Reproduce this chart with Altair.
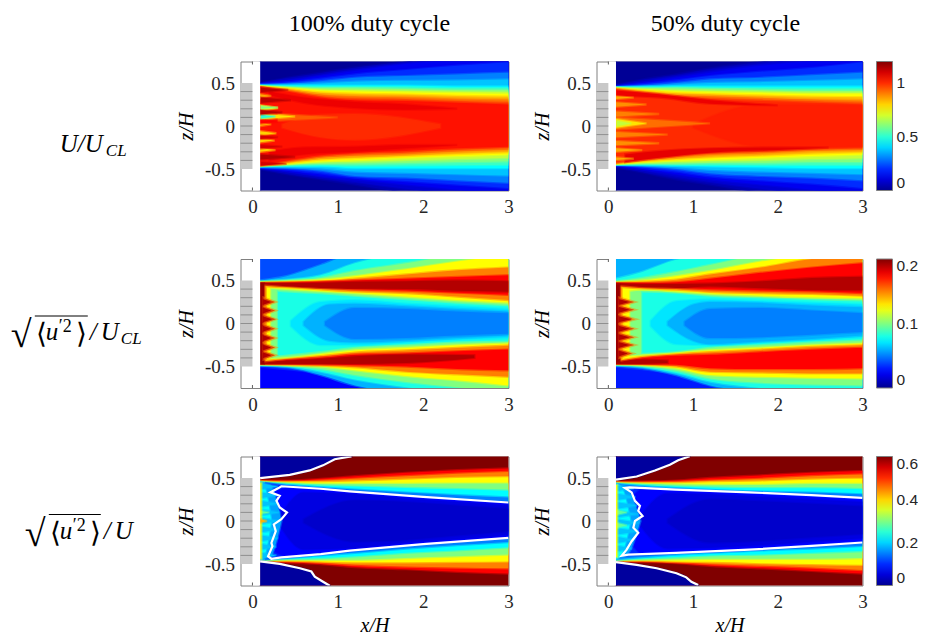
import altair as alt
import pandas as pd

W_LEFT, W_RIGHT, H = 268, 266, 129
X_DOM = [-0.14, 3]
Z_DOM = [-0.75, 0.75]
SERIF = "Liberation Serif"
SANS = "Liberation Sans"

# jet colormap stops (fraction of scale, colour)
JET_F = [0, 0.125, 0.375, 0.625, 0.875, 1]
JET_C = ["#00008f", "#0000ff", "#00ffff", "#ffff00", "#ff0000", "#800000"]

A = [0.09, 0.4, 0.8, 1.2, 1.8, 2.4, 3]
FULL = [0.09, 3]

# each band: (value, x stations, upper z edge, lower z edge)
U_100 = [
    (0.01, FULL, [0.8, 0.8], [-0.8, -0.8]),
    (0.05, A, [0.50, 0.56, 0.62, 0.68, 0.75, 0.85, 0.85], [-0.50, -0.56, -0.62, -0.68, -0.78, -0.85, -0.85]),
    (0.09, A, [0.495, 0.54, 0.60, 0.66, 0.735, 0.80, 0.85], [-0.495, -0.54, -0.60, -0.65, -0.73, -0.80, -0.83]),
    (0.13, A, [0.49, 0.52, 0.58, 0.64, 0.72, 0.78, 0.85], [-0.49, -0.52, -0.58, -0.62, -0.68, -0.74, -0.80]),
    (0.20, A, [0.485, 0.505, 0.55, 0.60, 0.65, 0.70, 0.74], [-0.485, -0.505, -0.55, -0.60, -0.64, -0.68, -0.72]),
    (0.30, A, [0.48, 0.49, 0.52, 0.56, 0.58, 0.60, 0.62], [-0.48, -0.49, -0.52, -0.58, -0.60, -0.63, -0.66]),
    (0.38, A, [0.475, 0.48, 0.495, 0.515, 0.525, 0.53, 0.54], [-0.475, -0.48, -0.495, -0.53, -0.545, -0.56, -0.575]),
    (0.45, A, [0.47, 0.47, 0.47, 0.47, 0.47, 0.46, 0.46], [-0.47, -0.47, -0.47, -0.49, -0.49, -0.49, -0.49]),
    (0.52, A, [0.467, 0.46, 0.455, 0.455, 0.45, 0.44, 0.44], [-0.467, -0.46, -0.455, -0.465, -0.46, -0.455, -0.45]),
    (0.60, A, [0.465, 0.45, 0.44, 0.44, 0.43, 0.42, 0.42], [-0.465, -0.45, -0.44, -0.44, -0.43, -0.42, -0.41]),
    (0.68, A, [0.462, 0.445, 0.425, 0.42, 0.41, 0.40, 0.395], [-0.462, -0.445, -0.425, -0.417, -0.40, -0.385, -0.37]),
    (0.75, A, [0.46, 0.44, 0.41, 0.40, 0.39, 0.38, 0.37], [-0.46, -0.44, -0.41, -0.395, -0.37, -0.35, -0.33]),
    (0.83, A, [0.457, 0.43, 0.39, 0.375, 0.365, 0.35, 0.34], [-0.457, -0.43, -0.39, -0.372, -0.35, -0.325, -0.305]),
    (0.90, A, [0.455, 0.42, 0.37, 0.35, 0.34, 0.32, 0.31], [-0.455, -0.42, -0.37, -0.35, -0.33, -0.30, -0.28]),
    (0.96, A, [0.452, 0.41, 0.35, 0.325, 0.315, 0.295, 0.28], [-0.452, -0.41, -0.355, -0.33, -0.31, -0.28, -0.26]),
    (1.03, A, [0.45, 0.40, 0.33, 0.30, 0.29, 0.27, 0.25], [-0.45, -0.40, -0.34, -0.31, -0.29, -0.26, -0.24]),
    (1.00, [0.35, 0.8, 1.2, 2.2], [0.02, 0.13, 0.14, 0.02], [-0.02, -0.13, -0.16, -0.02]),
    (1.07, [0.2, 0.6, 1.2, 1.8, 2.4], [0.40, 0.33, 0.28, 0.25, 0.20], [0.36, 0.27, 0.21, 0.19, 0.20]),
    (1.07, [0.2, 0.6, 1.2, 1.8, 2.4], [-0.30, -0.25, -0.24, -0.22, -0.22], [-0.40, -0.33, -0.30, -0.26, -0.22]),
]
# streaks near the inlet: (value, x start, x tip, z, half width)
U_100_S = [
    (0.94, 0.3, 1.0, 0.1, 0.04), (0.78, 0.09, 0.5, 0.11, 0.035), (0.75, 0.1, 0.3, 0.21, 0.03),
    (0.50, 0.1, 0.27, 0.11, 0.022), (0.60, 0.1, 0.3, 0.215, 0.015),
    (0.80, 0.09, 0.28, -0.085, 0.025), (0.80, 0.09, 0.26, -0.17, 0.02), (0.80, 0.09, 0.27, -0.28, 0.02),
    (0.85, 0.09, 0.22, 0.02, 0.02), (0.85, 0.09, 0.22, 0.35, 0.02),
    (1.13, 0.1, 0.42, 0.42, 0.025), (1.13, 0.1, 0.45, 0.30, 0.03), (1.13, 0.09, 0.35, 0.16, 0.025),
    (1.05, 0.09, 0.3, 0.05, 0.02), (1.10, 0.09, 0.3, -0.13, 0.02), (1.10, 0.09, 0.35, -0.24, 0.02),
    (1.14, 0.09, 0.5, -0.36, 0.03), (1.10, 0.1, 0.4, -0.44, 0.02),
]
U_50 = [
    (0.01, FULL, [0.8, 0.8], [-0.8, -0.8]),
    (0.05, A, [0.48, 0.54, 0.60, 0.67, 0.75, 0.85, 0.85], [-0.48, -0.54, -0.62, -0.68, -0.78, -0.85, -0.85]),
    (0.09, A, [0.47, 0.52, 0.58, 0.645, 0.725, 0.80, 0.85], [-0.47, -0.52, -0.59, -0.65, -0.73, -0.80, -0.83]),
    (0.13, A, [0.46, 0.50, 0.56, 0.62, 0.70, 0.76, 0.85], [-0.46, -0.50, -0.56, -0.62, -0.68, -0.74, -0.80]),
    (0.20, A, [0.458, 0.485, 0.53, 0.58, 0.63, 0.675, 0.74], [-0.458, -0.485, -0.53, -0.585, -0.63, -0.67, -0.72]),
    (0.30, A, [0.455, 0.47, 0.50, 0.54, 0.56, 0.59, 0.62], [-0.455, -0.47, -0.50, -0.55, -0.58, -0.60, -0.63]),
    (0.38, A, [0.452, 0.46, 0.48, 0.50, 0.51, 0.525, 0.54], [-0.452, -0.46, -0.48, -0.51, -0.53, -0.545, -0.56]),
    (0.45, A, [0.45, 0.455, 0.46, 0.46, 0.46, 0.46, 0.46], [-0.45, -0.45, -0.46, -0.47, -0.48, -0.49, -0.49]),
    (0.52, A, [0.447, 0.447, 0.45, 0.445, 0.44, 0.435, 0.435], [-0.447, -0.445, -0.45, -0.45, -0.455, -0.455, -0.455]),
    (0.60, A, [0.445, 0.44, 0.44, 0.43, 0.42, 0.41, 0.41], [-0.445, -0.44, -0.44, -0.43, -0.43, -0.42, -0.42]),
    (0.68, A, [0.442, 0.43, 0.42, 0.41, 0.40, 0.39, 0.39], [-0.442, -0.43, -0.42, -0.41, -0.40, -0.385, -0.375]),
    (0.75, A, [0.44, 0.42, 0.40, 0.39, 0.38, 0.37, 0.37], [-0.44, -0.42, -0.40, -0.39, -0.37, -0.35, -0.33]),
    (0.83, A, [0.435, 0.41, 0.38, 0.37, 0.355, 0.34, 0.335], [-0.435, -0.41, -0.385, -0.365, -0.345, -0.32, -0.305]),
    (0.90, A, [0.43, 0.40, 0.36, 0.35, 0.33, 0.31, 0.30], [-0.43, -0.40, -0.37, -0.34, -0.32, -0.29, -0.28]),
    (0.95, A, [0.425, 0.385, 0.345, 0.33, 0.31, 0.29, 0.275], [-0.425, -0.39, -0.35, -0.32, -0.30, -0.275, -0.265]),
    (1.00, A, [0.42, 0.37, 0.33, 0.31, 0.29, 0.27, 0.25], [-0.42, -0.38, -0.33, -0.30, -0.28, -0.26, -0.25]),
    (1.015, [1.0, 1.8, 2.4, 3], [0.02, 0.25, 0.25, 0.24], [-0.02, -0.24, -0.25, -0.24]),
    (1.07, [0.1, 0.6, 1.2, 2], [0.41, 0.37, 0.30, 0.24], [0.35, 0.33, 0.26, 0.24]),
    (1.08, [0.2, 0.6, 1.2, 2, 2.6], [-0.33, -0.29, -0.26, -0.25, -0.25], [-0.42, -0.37, -0.31, -0.28, -0.25]),
]
U_50_S = [
    (0.92, 0.09, 1.2, 0.03, 0.07), (0.78, 0.09, 0.45, 0.03, 0.05), (0.68, 0.1, 0.27, 0.03, 0.03),
    (0.90, 0.09, 0.6, 0.14, 0.03), (0.90, 0.09, 0.7, -0.1, 0.03), (0.88, 0.09, 0.6, -0.2, 0.025),
    (0.88, 0.09, 0.45, 0.25, 0.025), (0.85, 0.09, 0.4, -0.28, 0.02), (0.85, 0.09, 0.3, 0.33, 0.015),
    (0.85, 0.09, 0.3, -0.38, 0.015),
]

S14 = [0.14, 0.4, 0.8, 1.2, 1.8, 2.4, 3]
S17 = [0.17, 0.4, 0.8, 1.2, 1.8, 2.4, 3]
S22 = [0.22, 0.4, 0.8, 1.2, 1.8, 2.4, 3]
S30 = [0.30, 0.4, 0.8, 1.2, 1.8, 2.4, 3]

R_100 = [
    (0.025, FULL, [0.8, 0.8], [-0.8, -0.8]),
    (0.04, A, [0.8, 0.8, 0.8, 0.8, 0.8, 0.8, 0.8], [-0.50, -0.53, -0.58, -0.68, -0.75, -0.8, -0.8]),
    (0.06, A, [0.50, 0.55, 0.68, 0.8, 0.8, 0.8, 0.8], [-0.49, -0.505, -0.60, -0.72, -0.8, -0.8, -0.8]),
    (0.08, A, [0.49, 0.51, 0.56, 0.70, 0.8, 0.8, 0.8], [-0.485, -0.50, -0.56, -0.65, -0.74, -0.8, -0.8]),
    (0.10, A, [0.485, 0.50, 0.53, 0.61, 0.70, 0.80, 0.85], [-0.48, -0.49, -0.53, -0.60, -0.68, -0.74, -0.8]),
    (0.125, A, [0.48, 0.49, 0.51, 0.55, 0.63, 0.72, 0.8], [-0.475, -0.485, -0.50, -0.545, -0.61, -0.66, -0.72]),
    (0.15, A, [0.475, 0.48, 0.49, 0.52, 0.57, 0.62, 0.65], [-0.47, -0.48, -0.49, -0.51, -0.56, -0.59, -0.62]),
    (0.175, A, [0.47, 0.475, 0.485, 0.50, 0.52, 0.54, 0.56], [-0.465, -0.47, -0.475, -0.485, -0.5, -0.53, -0.545]),
    (0.19, A, [0.47, 0.47, 0.475, 0.485, 0.49, 0.50, 0.49], [0.44, 0.42, 0.405, 0.405, 0.40, 0.38, 0.37]),
    (0.19, [0.09, 0.4, 0.8, 1.2, 1.8, 2.6], [-0.44, -0.43, -0.41, -0.38, -0.36, -0.37], [-0.47, -0.47, -0.47, -0.47, -0.46, -0.40]),
    (0.15, S14, [0.44, 0.42, 0.40, 0.385, 0.37, 0.345, 0.32], [-0.44, -0.41, -0.385, -0.35, -0.335, -0.31, -0.29]),
    (0.125, S17, [0.42, 0.41, 0.385, 0.36, 0.34, 0.30, 0.26], [-0.42, -0.40, -0.365, -0.325, -0.30, -0.27, -0.245]),
    (0.10, S22, [0.40, 0.39, 0.365, 0.34, 0.30, 0.26, 0.23], [-0.40, -0.39, -0.345, -0.30, -0.27, -0.24, -0.22]),
    (0.08, S30, [0.37, 0.36, 0.34, 0.31, 0.27, 0.23, 0.20], [-0.37, -0.36, -0.32, -0.27, -0.24, -0.21, -0.20]),
    (0.07, [0.45, 0.8, 1.2, 1.8, 2.4, 3], [0.03, 0.25, 0.27, 0.23, 0.20, 0.17], [-0.03, -0.25, -0.25, -0.22, -0.19, -0.17]),
    (0.06, [0.6, 0.9, 1.2, 1.8, 2.4, 3], [0.02, 0.22, 0.23, 0.20, 0.17, 0.14], [-0.02, -0.20, -0.22, -0.20, -0.17, -0.14]),
    (0.05, [0.85, 1.2, 1.8, 2.4, 3], [0.02, 0.18, 0.17, 0.14, 0.12], [-0.02, -0.18, -0.17, -0.14, -0.12]),
]
R_100_S = [
    (0.195, 0.09, 0.135, 0.0, 0.47), (0.15, 0.13, 0.27, 0.25, 0.05), (0.15, 0.13, 0.27, 0.15, 0.05),
    (0.15, 0.13, 0.27, 0.05, 0.05), (0.15, 0.13, 0.27, -0.06, 0.05), (0.15, 0.13, 0.27, -0.17, 0.05),
    (0.15, 0.13, 0.27, -0.28, 0.05), (0.15, 0.13, 0.27, -0.37, 0.05),
    (0.19, 0.12, 0.22, 0.25, 0.035), (0.19, 0.12, 0.22, 0.15, 0.035), (0.19, 0.12, 0.23, 0.05, 0.035),
    (0.19, 0.12, 0.22, -0.06, 0.035), (0.19, 0.12, 0.22, -0.17, 0.035), (0.19, 0.12, 0.22, -0.28, 0.035),
    (0.19, 0.12, 0.22, -0.37, 0.035),
]
R_50 = [
    (0.03, FULL, [0.8, 0.8], [-0.8, -0.8]),
    (0.045, A, [0.8, 0.8, 0.8, 0.8, 0.8, 0.8, 0.8], [-0.50, -0.53, -0.58, -0.64, -0.72, -0.8, -0.8]),
    (0.06, A, [0.8, 0.8, 0.8, 0.8, 0.8, 0.8, 0.8], [-0.49, -0.515, -0.60, -0.72, -0.80, -0.85, -0.85]),
    (0.08, A, [0.52, 0.60, 0.74, 0.8, 0.8, 0.8, 0.8], [-0.485, -0.505, -0.575, -0.675, -0.75, -0.8, -0.85]),
    (0.10, A, [0.49, 0.53, 0.60, 0.68, 0.8, 0.85, 0.85], [-0.48, -0.495, -0.55, -0.64, -0.69, -0.71, -0.72]),
    (0.125, A, [0.48, 0.50, 0.55, 0.61, 0.72, 0.8, 0.85], [-0.475, -0.485, -0.52, -0.60, -0.62, -0.63, -0.64]),
    (0.15, A, [0.475, 0.485, 0.51, 0.57, 0.65, 0.75, 0.8], [-0.47, -0.478, -0.50, -0.56, -0.57, -0.58, -0.58]),
    (0.175, A, [0.47, 0.47, 0.48, 0.52, 0.59, 0.65, 0.70], [-0.465, -0.47, -0.48, -0.52, -0.53, -0.53, -0.52]),
    (0.19, A, [0.47, 0.46, 0.46, 0.465, 0.49, 0.53, 0.545], [0.44, 0.42, 0.41, 0.43, 0.41, 0.39, 0.387]),
    (0.19, [0.09, 0.4, 0.7], [-0.44, -0.42, -0.43], [-0.47, -0.47, -0.46]),
    (0.15, S14, [0.43, 0.41, 0.40, 0.385, 0.37, 0.36, 0.34], [-0.43, -0.39, -0.36, -0.35, -0.32, -0.29, -0.27]),
    (0.125, S17, [0.41, 0.395, 0.38, 0.355, 0.34, 0.33, 0.31], [-0.41, -0.375, -0.345, -0.32, -0.29, -0.26, -0.24]),
    (0.10, [0.26, 0.4, 0.8, 1.2, 1.8, 2.4, 3], [0.37, 0.38, 0.36, 0.335, 0.31, 0.29, 0.28], [-0.37, -0.36, -0.33, -0.30, -0.27, -0.24, -0.22]),
    (0.08, [0.4, 0.8, 1.2, 1.8, 2.4, 3], [0.36, 0.345, 0.31, 0.29, 0.27, 0.256], [-0.34, -0.32, -0.27, -0.24, -0.21, -0.186]),
    (0.07, [0.5, 0.8, 1.2, 1.8, 2.4, 3], [0.03, 0.26, 0.28, 0.26, 0.24, 0.22], [-0.03, -0.24, -0.25, -0.22, -0.19, -0.16]),
    (0.06, [0.7, 1.0, 1.2, 1.8, 2.4, 3], [0.02, 0.22, 0.25, 0.24, 0.21, 0.19], [-0.02, -0.20, -0.24, -0.21, -0.18, -0.14]),
    (0.05, [0.9, 1.2, 1.8, 2.4, 3], [0.02, 0.17, 0.18, 0.15, 0.12], [-0.02, -0.17, -0.16, -0.13, -0.10]),
]
R_50_S = [
    (0.195, 0.09, 0.135, 0.0, 0.45), (0.15, 0.13, 0.31, 0.25, 0.05), (0.15, 0.13, 0.31, 0.16, 0.05),
    (0.15, 0.13, 0.32, 0.05, 0.05), (0.15, 0.13, 0.31, -0.06, 0.05), (0.15, 0.13, 0.31, -0.16, 0.05),
    (0.15, 0.13, 0.31, -0.25, 0.05), (0.15, 0.13, 0.29, -0.35, 0.05),
    (0.19, 0.12, 0.25, 0.25, 0.035), (0.19, 0.12, 0.25, 0.16, 0.035), (0.19, 0.12, 0.27, 0.05, 0.035),
    (0.19, 0.12, 0.25, -0.06, 0.035), (0.19, 0.12, 0.25, -0.16, 0.035), (0.19, 0.12, 0.25, -0.25, 0.035),
    (0.19, 0.12, 0.23, -0.35, 0.035),
]

Q_100 = [
    (0.60, FULL, [0.8, 0.8], [-0.8, -0.8]),
    (0.525, A, [0.47, 0.47, 0.49, 0.52, 0.56, 0.59, 0.61], [-0.47, -0.48, -0.50, -0.535, -0.56, -0.59, -0.61]),
    (0.45, A, [0.465, 0.46, 0.47, 0.49, 0.52, 0.55, 0.57], [-0.465, -0.47, -0.485, -0.51, -0.53, -0.54, -0.55]),
    (0.375, A, [0.46, 0.45, 0.45, 0.46, 0.48, 0.50, 0.51], [-0.46, -0.46, -0.47, -0.48, -0.48, -0.475, -0.47]),
    (0.30, A, [0.455, 0.44, 0.43, 0.43, 0.43, 0.435, 0.435], [-0.455, -0.45, -0.45, -0.45, -0.43, -0.41, -0.39]),
    (0.225, A, [0.45, 0.43, 0.41, 0.40, 0.385, 0.37, 0.353], [-0.45, -0.44, -0.43, -0.41, -0.37, -0.34, -0.306]),
    (0.15, A, [0.445, 0.42, 0.39, 0.365, 0.33, 0.30, 0.274], [-0.445, -0.43, -0.40, -0.37, -0.32, -0.28, -0.245]),
    (0.10, [0.16, 0.4, 0.8, 1.2, 1.8, 2.4, 3], [0.44, 0.405, 0.375, 0.34, 0.29, 0.25, 0.215], [-0.44, -0.42, -0.385, -0.34, -0.28, -0.24, -0.196]),
    (0.075, [0.25, 0.4, 0.8, 1.2, 1.8, 2.4, 3], [0.33, 0.38, 0.36, 0.33, 0.28, 0.24, 0.20], [-0.35, -0.41, -0.37, -0.33, -0.27, -0.23, -0.185]),
    (0.055, [0.3, 0.6, 1.2, 1.8, 2.4, 3], [0.02, 0.33, 0.31, 0.26, 0.22, 0.18], [-0.02, -0.33, -0.31, -0.25, -0.21, -0.16]),
    (0.04, [0.6, 1.2, 1.8, 2.4, 3], [0.02, 0.24, 0.22, 0.18, 0.14], [-0.02, -0.24, -0.22, -0.17, -0.12]),
    (0.17, [0.09, 0.2, 0.34], [0.44, 0.42, 0.0], [-0.44, -0.42, 0.0]),
    (0.225, [0.09, 0.13, 0.22], [0.44, 0.42, 0.0], [-0.44, -0.42, 0.0]),
]
Q_100_S = [
    (0.19, 0.09, 0.3, 0.4, 0.035), (0.19, 0.09, 0.3, 0.3, 0.035), (0.19, 0.09, 0.3, 0.2, 0.035),
    (0.19, 0.09, 0.32, 0.1, 0.035), (0.19, 0.09, 0.32, 0.0, 0.035), (0.19, 0.09, 0.3, -0.1, 0.035),
    (0.19, 0.09, 0.3, -0.2, 0.035), (0.19, 0.09, 0.28, -0.3, 0.035), (0.19, 0.09, 0.28, -0.4, 0.035),
    (0.28, 0.09, 0.2, 0.1, 0.02), (0.37, 0.09, 0.105, 0.0, 0.44), (0.42, 0.09, 0.17, 0.0, 0.02),
]
Q_50 = [
    (0.60, FULL, [0.8, 0.8], [-0.8, -0.8]),
    (0.525, A, [0.455, 0.46, 0.47, 0.50, 0.53, 0.56, 0.58], [-0.47, -0.475, -0.49, -0.52, -0.55, -0.58, -0.61]),
    (0.45, A, [0.45, 0.45, 0.455, 0.47, 0.49, 0.52, 0.54], [-0.465, -0.465, -0.48, -0.50, -0.52, -0.54, -0.57]),
    (0.375, A, [0.445, 0.44, 0.44, 0.45, 0.46, 0.48, 0.49], [-0.46, -0.46, -0.47, -0.475, -0.49, -0.50, -0.51]),
    (0.30, A, [0.44, 0.43, 0.425, 0.42, 0.42, 0.43, 0.43], [-0.455, -0.45, -0.445, -0.44, -0.44, -0.44, -0.43]),
    (0.225, A, [0.435, 0.42, 0.40, 0.39, 0.38, 0.38, 0.37], [-0.45, -0.435, -0.42, -0.40, -0.39, -0.37, -0.35]),
    (0.15, A, [0.43, 0.405, 0.38, 0.36, 0.34, 0.33, 0.31], [-0.445, -0.42, -0.39, -0.37, -0.34, -0.32, -0.29]),
    (0.10, [0.2, 0.4, 0.8, 1.2, 1.8, 2.4, 3], [0.39, 0.38, 0.365, 0.35, 0.33, 0.30, 0.27], [-0.40, -0.39, -0.37, -0.355, -0.33, -0.29, -0.25]),
    (0.075, [0.3, 0.4, 0.8, 1.2, 1.8, 2.4, 3], [0.30, 0.37, 0.35, 0.34, 0.31, 0.28, 0.25], [-0.30, -0.38, -0.36, -0.34, -0.31, -0.27, -0.23]),
    (0.055, [0.35, 0.7, 1.2, 1.8, 2.4, 3], [0.02, 0.32, 0.31, 0.28, 0.25, 0.22], [-0.02, -0.32, -0.31, -0.28, -0.24, -0.20]),
    (0.04, [0.7, 1.2, 1.8, 2.4, 3], [0.02, 0.25, 0.23, 0.20, 0.17], [-0.02, -0.25, -0.23, -0.19, -0.15]),
    (0.17, [0.09, 0.22, 0.38], [0.43, 0.38, 0.0], [-0.44, -0.39, 0.0]),
    (0.225, [0.09, 0.16, 0.26], [0.43, 0.38, 0.0], [-0.44, -0.38, 0.0]),
]
Q_50_S = [
    (0.19, 0.09, 0.3, 0.38, 0.035), (0.19, 0.09, 0.32, 0.28, 0.04), (0.19, 0.09, 0.34, 0.18, 0.04),
    (0.19, 0.09, 0.36, 0.08, 0.04), (0.19, 0.09, 0.36, -0.02, 0.04), (0.19, 0.09, 0.36, -0.12, 0.04),
    (0.19, 0.09, 0.3, -0.22, 0.04), (0.19, 0.09, 0.28, -0.32, 0.035),
    (0.28, 0.09, 0.22, 0.1, 0.03), (0.28, 0.09, 0.22, -0.05, 0.03), (0.37, 0.09, 0.105, 0.0, 0.42),
]

# white contour lines (x, z) and dark corners of the third row
TOP_100_X = [0.09, 0.437, 0.671, 0.827, 0.964, 1.12, 1.16]
TOP_100_Z = [0.498, 0.537, 0.588, 0.647, 0.718, 0.745, 0.752]
LOW_100_X = [0.09, 0.32, 0.556, 0.69, 0.73, 0.827, 0.905]
LOW_100_Z = [-0.47, -0.498, -0.549, -0.588, -0.647, -0.706, -0.753]
IN_100_X = [3, 2, 1.14, 0.8, 0.339, 0.30, 0.21, 0.32, 0.281, 0.32, 0.405, 0.339, 0.25, 0.273, 0.222, 0.234, 0.183, 0.222, 0.339, 0.8, 1.14, 2, 3]
IN_100_Z = [0.215, 0.28, 0.345, 0.375, 0.404, 0.38, 0.333, 0.294, 0.235, 0.157, 0.098, 0.02, -0.039, -0.118, -0.255, -0.294, -0.412, -0.439, -0.424, -0.385, -0.345, -0.27, -0.196]
TOP_50_X = [0.09, 0.334, 0.55, 0.726, 0.824, 0.90, 0.96]
TOP_50_Z = [0.482, 0.517, 0.588, 0.655, 0.706, 0.733, 0.753]
LOW_50_X = [0.09, 0.334, 0.57, 0.804, 0.92, 0.98, 1.06]
LOW_50_Z = [-0.479, -0.51, -0.549, -0.608, -0.655, -0.706, -0.745]
IN_50_X = [3, 2.4, 1.667, 0.8, 0.25, 0.196, 0.275, 0.314, 0.373, 0.353, 0.404, 0.314, 0.295, 0.353, 0.275, 0.216, 0.157, 0.236, 0.8, 1.667, 2.4, 3]
IN_50_Z = [0.27, 0.30, 0.333, 0.365, 0.39, 0.384, 0.333, 0.235, 0.176, 0.118, 0.059, 0.0, -0.078, -0.137, -0.235, -0.333, -0.404, -0.392, -0.37, -0.333, -0.29, -0.25]

NOZZLE_EDGES = [-0.5, -0.4, -0.3, -0.2, -0.1, 0.0, 0.1, 0.2, 0.3, 0.4, 0.5]


def jet_hex(frac):
    frac = min(max(frac, 0.0), 1.0)
    for i in range(len(JET_F) - 1):
        if frac <= JET_F[i + 1]:
            t = (frac - JET_F[i]) / (JET_F[i + 1] - JET_F[i])
            a, b = JET_C[i], JET_C[i + 1]
            out = "#"
            for k in (1, 3, 5):
                ca, cb = int(a[k:k + 2], 16), int(b[k:k + 2], 16)
                out += f"{round(ca + (cb - ca) * t):02x}"
            return out
    return JET_C[-1]


def band_frame(bands, streaks, vmax):
    rows, seq = [], 0
    for v, xs, tops, bots in bands:
        for x, t, b in zip(xs, tops, bots):
            rows.append(dict(x=x, top=t, bot=b, c=jet_hex(v / vmax), seq=f"{seq:03d}"))
        seq += 1
    for v, x0, x1, z, hw in streaks:
        k = 0.0 if x1 - x0 > 0.06 else 1.0
        rows.append(dict(x=x0, top=z + hw, bot=z - hw, c=jet_hex(v / vmax), seq=f"{seq:03d}"))
        rows.append(dict(x=x1, top=z + hw * k, bot=z - hw * k, c=jet_hex(v / vmax), seq=f"{seq:03d}"))
        seq += 1
    return pd.DataFrame(rows)


def text(s, px, py, row_top, size, style="normal", font=SERIF):
    return alt.Chart(pd.DataFrame({"t": [s]})).mark_text(
        align="left", baseline="alphabetic", fontSize=size, fontStyle=style, font=font, color="#000000"
    ).encode(x=alt.value(px - 240.7), y=alt.value(py - row_top), text="t:N")


def panel(bands, streaks, vmax, width, col, row, ticks=None, lines=None, corners=None, extra=None):
    domain = [f * vmax for f in JET_F]
    scale = alt.Scale(domain=domain, range=JET_C, interpolate="rgb", clamp=True)
    df = band_frame(bands, streaks, vmax)
    if corners:
        df2 = band_frame(corners, [], vmax)
        n = df["seq"].astype(int).max() + 1
        df2["seq"] = [f"{int(s) + n:03d}" for s in df2["seq"]]
        df = pd.concat([df, df2], ignore_index=True)
    x_axis = alt.Axis(
        values=[0, 1, 2, 3], ticks=False, grid=False, domain=False, labelFont=SERIF, labelFontSize=19,
        labelColor="#262626", labelPadding=7, format="d", labelFlush=False,
        title="x/H" if row == 2 else None, titleFont=SERIF, titleFontStyle="italic", titleFontWeight="normal",
        titleFontSize=20, titleColor="#000000", titlePadding=4,
    )
    y_axis = alt.Axis(
        values=[-0.5, 0, 0.5], ticks=False, grid=False, domain=False, labelFont=SERIF, labelFontSize=19,
        labelColor="#262626", labelPadding=6,
        labelExpr="datum.value == 0 ? '0' : datum.value > 0 ? '0.5' : '-0.5'",
        title="z/H", titleFont=SERIF, titleFontStyle="italic", titleFontWeight="normal", titleFontSize=20,
        titleColor="#000000", titlePadding=8,
    )
    x_s = alt.Scale(domain=X_DOM, nice=False, zero=False)
    y_s = alt.Scale(domain=Z_DOM, nice=False, zero=False)
    field = alt.Chart(df).mark_area(clip=True, interpolate="monotone", strokeWidth=2.4, strokeOpacity=0.45).encode(
        x=alt.X("x:Q", scale=x_s, axis=x_axis),
        y=alt.Y("top:Q", scale=y_s, axis=y_axis),
        y2="bot:Q",
        fill=alt.Fill("c:N", scale=None),
        stroke=alt.Stroke("c:N", scale=None),
        detail="seq:N",
    )
    layers = [field]
    # white strip hides the soft edge of the field left of its first column
    mask = pd.DataFrame({"x0": [0.0], "x1": [0.09], "z0": [Z_DOM[0]], "z1": [Z_DOM[1]]})
    layers.append(alt.Chart(mask).mark_rect(color="#ffffff").encode(x="x0:Q", x2="x1:Q", y="z0:Q", y2="z1:Q"))
    if lines:
        rows = []
        for i, (xs, zs) in enumerate(lines):
            for j, (x, z) in enumerate(zip(xs, zs)):
                rows.append(dict(lx=x, lz=z, line=i, idx=j))
        layers.append(
            alt.Chart(pd.DataFrame(rows)).mark_line(color="#ffffff", strokeWidth=2.2, clip=True).encode(
                x="lx:Q", y="lz:Q", detail="line:N", order="idx:Q"
            )
        )
    nz = pd.DataFrame({"x0": [X_DOM[0]], "x1": [0.0], "z0": [NOZZLE_EDGES[0]], "z1": [NOZZLE_EDGES[-1]]})
    layers.append(alt.Chart(nz).mark_rect(color="#c8c8c8").encode(x="x0:Q", x2="x1:Q", y="z0:Q", y2="z1:Q"))
    nl = pd.DataFrame({"z": NOZZLE_EDGES[1:-1], "x0": [X_DOM[0]] * 9, "x1": [0.0] * 9})
    layers.append(alt.Chart(nl).mark_rule(color="#909090", strokeWidth=1).encode(x="x0:Q", x2="x1:Q", y="z:Q"))
    tk = pd.DataFrame({"x": [0.0]})
    layers.append(alt.Chart(tk).mark_rule(color="#606060").encode(x="x:Q", y=alt.value(0), y2=alt.value(3)))
    layers.append(alt.Chart(tk).mark_rule(color="#606060").encode(x="x:Q", y=alt.value(H), y2=alt.value(H - 3)))
    if ticks is not None:
        legend = alt.Legend(
            type="gradient", orient="none", legendX=280, legendY=0, title=None, values=ticks, gradientLength=H,
            gradientThickness=16, gradientStrokeColor="#808080", gradientStrokeWidth=1, format="~g",
            labelFont=SANS, labelFontSize=15.5, labelColor="#262626", labelOffset=4, labelBaseline="middle",
        )
        # colourbar: an invisible rect that carries the panel's jet scale
        cb = pd.DataFrame({"cv": [0.0, vmax]})
        layers.append(
            alt.Chart(cb).mark_rect(opacity=0).encode(color=alt.Color("cv:Q", scale=scale, legend=legend))
        )
    if extra:
        layers.extend(extra)
    return alt.layer(*layers).properties(width=width, height=H)


def radical_label(x0, row_top, base, rule_y, x_rad, rule_end):
    return [
        text("√", x_rad, base + 7, row_top, 38, font=SERIF),
        alt.Chart(pd.DataFrame({"t": ["r"]})).mark_rule(color="#000000", strokeWidth=1).encode(
            x=alt.value(x0 - 1 - 240.7), x2=alt.value(rule_end - 240.7), y=alt.value(rule_y - row_top)
        ),
        text("⟨", x0, base + 3, row_top, 28),
        text("u", x0 + 10, base, row_top, 25, "italic"),
        text("′2", x0 + 23, base - 8, row_top, 18),
        text("⟩", x0 + 40, base + 3, row_top, 28),
    ]


row1_extra = [
    text("100% duty cycle", 289, 30, 61, 24),
    text("U/U", 60, 151, 61, 25, "italic"),
    text("CL", 106, 155, 61, 17, "italic"),
]
row1r_extra = [text("50% duty cycle", 651, 30, 61, 24).encode(x=alt.value(651 - 596.7))]
row2_extra = radical_label(36, 259, 340, 316, 11, 88) + [
    text("/", 90, 340, 259, 25, "italic"),
    text("U", 101, 340, 259, 25, "italic"),
    text("CL", 121, 344, 259, 17, "italic"),
]
row3_extra = radical_label(50, 456, 538, 514, 25, 101) + [
    text("/", 104, 538, 456, 25, "italic"),
    text("U", 115, 538, 456, 25, "italic"),
]

corners_100 = [
    (0.01, TOP_100_X, [0.85] * len(TOP_100_X), TOP_100_Z),
    (0.01, LOW_100_X, LOW_100_Z, [-0.85] * len(LOW_100_X)),
]
corners_50 = [
    (0.01, TOP_50_X, [0.85] * len(TOP_50_X), TOP_50_Z),
    (0.01, LOW_50_X, LOW_50_Z, [-0.85] * len(LOW_50_X)),
]

charts = [
    panel(U_100, U_100_S, 1.2, W_LEFT, 0, 0, extra=row1_extra),
    panel(U_50, U_50_S, 1.2, W_RIGHT, 1, 0, ticks=[0, 0.5, 1], extra=row1r_extra),
    panel(R_100, R_100_S, 0.2, W_LEFT, 0, 1, extra=row2_extra),
    panel(R_50, R_50_S, 0.2, W_RIGHT, 1, 1, ticks=[0, 0.1, 0.2]),
    panel(Q_100, Q_100_S, 0.6, W_LEFT, 0, 2, corners=corners_100,
          lines=[(TOP_100_X, TOP_100_Z), (LOW_100_X, LOW_100_Z), (IN_100_X, IN_100_Z)], extra=row3_extra),
    panel(Q_50, Q_50_S, 0.6, W_RIGHT, 1, 2, ticks=[0, 0.2, 0.4, 0.6], corners=corners_50,
          lines=[(TOP_50_X, TOP_50_Z), (LOW_50_X, LOW_50_Z), (IN_50_X, IN_50_Z)]),
]

chart = alt.concat(*charts, columns=2, spacing={"row": 68.5, "column": 88}, bounds="flush", align="each").resolve_scale(
    color="independent"
).properties(
    padding={"left": 1.5, "top": 2.5, "right": -1.5, "bottom": 0}, background="#ffffff"
).configure_view(stroke="#808080", strokeWidth=1)

chart.save("out.html", embed_options={"renderer": "svg", "actions": False})
